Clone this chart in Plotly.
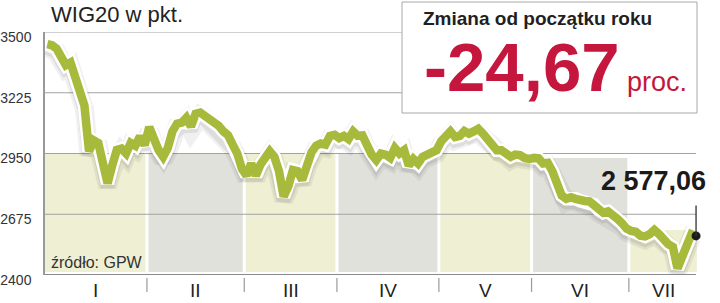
import numpy as np
import pandas as pd
import plotly.graph_objects as go

# ---------------- data ----------------
trade_dates = [
    "2008-01-02", "2008-01-03", "2008-01-04", "2008-01-07", "2008-01-08", "2008-01-09", "2008-01-10",
    "2008-01-11", "2008-01-14", "2008-01-15", "2008-01-16", "2008-01-17", "2008-01-18", "2008-01-21",
    "2008-01-22", "2008-01-23", "2008-01-24", "2008-01-25", "2008-01-28", "2008-01-29", "2008-01-30",
    "2008-01-31",
    "2008-02-01", "2008-02-04", "2008-02-05", "2008-02-06", "2008-02-07", "2008-02-08", "2008-02-11",
    "2008-02-12", "2008-02-13", "2008-02-14", "2008-02-15", "2008-02-18", "2008-02-19", "2008-02-20",
    "2008-02-21", "2008-02-22", "2008-02-25", "2008-02-26", "2008-02-27", "2008-02-28", "2008-02-29",
    "2008-03-03", "2008-03-04", "2008-03-05", "2008-03-06", "2008-03-07", "2008-03-10", "2008-03-11",
    "2008-03-12", "2008-03-13", "2008-03-14", "2008-03-17", "2008-03-18", "2008-03-19", "2008-03-20",
    "2008-03-21", "2008-03-25", "2008-03-26", "2008-03-27", "2008-03-28", "2008-03-31",
    "2008-04-01", "2008-04-02", "2008-04-03", "2008-04-04", "2008-04-07", "2008-04-08", "2008-04-09",
    "2008-04-10", "2008-04-11", "2008-04-14", "2008-04-15", "2008-04-16", "2008-04-17", "2008-04-18",
    "2008-04-21", "2008-04-22", "2008-04-23", "2008-04-24", "2008-04-25", "2008-04-28", "2008-04-29",
    "2008-04-30",
    "2008-05-02", "2008-05-05", "2008-05-06", "2008-05-07", "2008-05-08", "2008-05-09", "2008-05-12",
    "2008-05-13", "2008-05-14", "2008-05-15", "2008-05-16", "2008-05-19", "2008-05-20", "2008-05-21",
    "2008-05-23", "2008-05-26", "2008-05-27", "2008-05-28", "2008-05-29", "2008-05-30",
    "2008-06-02", "2008-06-03", "2008-06-04", "2008-06-05", "2008-06-06", "2008-06-09", "2008-06-10",
    "2008-06-11", "2008-06-12", "2008-06-13", "2008-06-16", "2008-06-17", "2008-06-18", "2008-06-19",
    "2008-06-20", "2008-06-23", "2008-06-24", "2008-06-25", "2008-06-26", "2008-06-27", "2008-06-30",
    "2008-07-01", "2008-07-02", "2008-07-03", "2008-07-04", "2008-07-07", "2008-07-08", "2008-07-09",
    "2008-07-10", "2008-07-11", "2008-07-14", "2008-07-15", "2008-07-16", "2008-07-17", "2008-07-18",
    "2008-07-21",
]
wig20 = [
    3445, 3440, 3425, 3385, 3350, 3362, 3290, 3215, 3168, 2960, 3010, 2998, 2890, 2815, 2895,
    2966, 2972, 2950, 2998, 2985, 3028, 2988,
    3070, 3008, 2966, 2935, 2975, 3050, 3085, 3090, 3112, 3072, 3130, 3135, 3122, 3100, 3085,
    3075, 3050, 3033, 2990, 2950, 2880,
    2850, 2905, 2850, 2900, 2930, 2960, 2935, 2870, 2755, 2800, 2875, 2870, 2830, 2900, 2955,
    2985, 2995, 2990, 3030, 3035,
    3020, 3030, 3015, 3050, 3030, 3032, 2985, 2945, 2920, 2950, 2945, 2930, 2975, 2950, 2965,
    2895, 2925, 2905, 2935, 2945, 2950, 2965,
    3005, 3025, 3050, 3025, 3030, 3052, 3040, 3050, 3062, 3040, 3015, 2995, 2965, 2965, 2955,
    2935, 2945, 2943, 2930, 2925,
    2930, 2928, 2905, 2908, 2870, 2810, 2760, 2745, 2752, 2745, 2736, 2735, 2733, 2718, 2695,
    2682, 2688, 2675, 2655, 2635, 2610,
    2600, 2596, 2578, 2575, 2585, 2604, 2585, 2555, 2540, 2527, 2430, 2482, 2525, 2585, 2577.06,
]
holidays = ["2008-01-01", "2008-03-24", "2008-05-01", "2008-05-22"]
month_starts = ["2008-01-01", "2008-02-01", "2008-03-01", "2008-04-01", "2008-05-01", "2008-06-01", "2008-07-01"]
month_labels = ["I", "II", "III", "IV", "V", "VI", "VII"]
y_ticks = [2400, 2675, 2950, 3225, 3500]
y_ticktext = ["2400", "2675", "2950", "3225", "3500"]
band_cap = 2950
title_text = "WIG20 w pkt."
box_title = "Zmiana od początku roku"
change_text = "-24,67"
change_unit = "proc."
last_text = "2 577,06"
source_text = "źródło: GPW"

# ---------------- style ----------------
W, H = 720, 303
L, R, T, B = 45, 17, 32, 28
PW, PH = W - L - R, H - T - B
Y0, Y1 = 2400, 3500
UNIT = (Y1 - Y0) / PH            # value units per pixel
GREEN = "#a8ba3c"
YELLOW = "#efefd4"
GREY = "#e1e1dc"
RED = "#c5163d"
FONT = "Liberation Sans"

hol = np.array(holidays, dtype="datetime64[D]")
first_day = np.datetime64(trade_dates[0], "D")


def slot_of(day):
    return int(np.busday_count(first_day, np.datetime64(day, "D"), holidays=hol))


def slot_to_ts(s):
    i = int(np.floor(s))
    f = s - i
    d = np.busday_offset(first_day, i, roll="forward", holidays=hol)
    return pd.Timestamp(d) + pd.Timedelta(hours=24 * f)


def px_x(px):
    return (px - L) / PW


def px_y(py):
    return (H - B - py) / PH


x_pts = pd.to_datetime(trade_dates) + pd.Timedelta(hours=12)
n_slots_total = slot_of(trade_dates[-1]) + 1
series = pd.Series(wig20, index=pd.to_datetime(trade_dates))
month_max = series.groupby(series.index.month).max().tolist()

# month band slots
starts = []
for ms in month_starts:
    ftd = np.busday_offset(np.datetime64(ms, "D"), 0, roll="forward", holidays=hol)
    starts.append(slot_of(ftd))
ends = starts[1:] + [n_slots_total]

gap = 0.33
shapes = []
annotations = []
for k, (s0, s1) in enumerate(zip(starts, ends)):
    a = s0 + (gap if k > 0 else 0)
    b = s1 - gap
    shapes.append(dict(type="rect", xref="x", yref="y", layer="below",
                       x0=slot_to_ts(a), x1=slot_to_ts(b),
                       y0=Y0 + 3 * UNIT, y1=min(band_cap, month_max[k]),
                       fillcolor=YELLOW if k % 2 == 0 else GREY, line=dict(width=0)))
    annotations.append(dict(x=slot_to_ts((s0 + s1) / 2), y=px_y(290), xref="x", yref="paper",
                            text=month_labels[k], showarrow=False, xanchor="center", yanchor="middle",
                            font=dict(family=FONT, size=19, color="#222222")))
    if k > 0:
        shapes.append(dict(type="line", xref="x", yref="paper", layer="above",
                           x0=slot_to_ts(s0), x1=slot_to_ts(s0), y0=px_y(278), y1=px_y(292),
                           line=dict(color="#9a9a9a", width=1.2)))

x_left = slot_to_ts(0)
x_last = x_pts[-1]
for v in y_ticks[1:]:
    shapes.append(dict(type="line", xref="x", yref="y", layer="below",
                       x0=x_left, x1=x_last, y0=v, y1=v,
                       line=dict(color="#a3a3a3", width=1)))
# bottom axis line
shapes.append(dict(type="line", xref="x", yref="y", layer="above",
                   x0=x_left, x1=x_last, y0=Y0, y1=Y0,
                   line=dict(color="#8a8a8a", width=2)))
# info box
shapes.append(dict(type="rect", xref="paper", yref="paper", layer="above",
                   x0=px_x(402), x1=px_x(697), y0=px_y(113), y1=px_y(2),
                   fillcolor="white", line=dict(color="#a8a8a8", width=1)))

fig = go.Figure()
# shadow (drawn on a slightly shifted axis)
fig.add_trace(go.Scatter(x=x_pts, y=wig20, mode="lines", yaxis="y2", hoverinfo="skip",
                         line=dict(color="rgba(0,0,0,0.06)", width=19)))
fig.add_trace(go.Scatter(x=x_pts, y=wig20, mode="lines", yaxis="y2", hoverinfo="skip",
                         line=dict(color="rgba(0,0,0,0.08)", width=14)))
# halo + line
fig.add_trace(go.Scatter(x=x_pts, y=wig20, mode="lines", yaxis="y3", hoverinfo="skip",
                         line=dict(color="white", width=13.5)))
fig.add_trace(go.Scatter(x=x_pts, y=wig20, mode="lines", yaxis="y3",
                         line=dict(color=GREEN, width=8.5)))
fig.add_trace(go.Scatter(x=[x_pts[-1]], y=[wig20[-1]], mode="markers", yaxis="y3",
                         marker=dict(color="#1a1a1a", size=9), cliponaxis=False))

# end label connector
annotations.append(dict(x=x_last, y=wig20[-1], xref="x", yref="y", text="", showarrow=True,
                        arrowhead=0, arrowwidth=1.3, arrowcolor="#333333", ax=0, ay=-32, standoff=0))
annotations.append(dict(x=x_last, y=wig20[-1], xref="x", yref="y", text=f"<b>{last_text}</b>",
                        showarrow=False, xanchor="right", yanchor="middle", xshift=12, yshift=55,
                        font=dict(family=FONT, size=27, color="#1a1a1a")))
# title
annotations.append(dict(x=px_x(49), y=px_y(14.5), xref="paper", yref="paper", text=title_text,
                        showarrow=False, xanchor="left", yanchor="middle",
                        font=dict(family=FONT, size=22, color="#222222")))
# box texts
annotations.append(dict(x=px_x(421), y=px_y(18.5), xref="paper", yref="paper", text=f"<b>{box_title}</b>",
                        showarrow=False, xanchor="left", yanchor="middle",
                        font=dict(family=FONT, size=19, color="#1f1f1f")))
annotations.append(dict(x=px_x(422), y=px_y(67), xref="paper", yref="paper", text=f"<b>{change_text}</b>",
                        showarrow=False, xanchor="left", yanchor="middle",
                        font=dict(family=FONT, size=69, color=RED)))
annotations.append(dict(x=px_x(625), y=px_y(81.5), xref="paper", yref="paper", text=change_unit,
                        showarrow=False, xanchor="left", yanchor="middle",
                        font=dict(family=FONT, size=27, color=RED)))
# source
annotations.append(dict(x=px_x(49), y=px_y(262.5), xref="paper", yref="paper", text=source_text,
                        showarrow=False, xanchor="left", yanchor="middle",
                        font=dict(family=FONT, size=16, color="#333333")))

fig.update_layout(
    width=W, height=H,
    margin=dict(l=L, r=R, t=T, b=B, pad=0, autoexpand=False),
    paper_bgcolor="white", plot_bgcolor="white",
    showlegend=False,
    font=dict(family=FONT),
    xaxis=dict(type="date", range=[slot_to_ts(0), slot_to_ts(n_slots_total + 1)],
               rangebreaks=[dict(bounds=["sat", "mon"]), dict(values=holidays)],
               automargin=False,
               showgrid=False, showline=False, zeroline=False, ticks="", showticklabels=False),
    yaxis=dict(range=[Y0, Y1], tickvals=y_ticks, ticktext=y_ticktext, showgrid=False,
               automargin=False,
               zeroline=False, showline=True, linecolor="#999999", linewidth=1.5, ticks="",
               tickfont=dict(family=FONT, size=14, color="#333333"),
               ticklabelstandoff=9, ticklabelshift=5),
    yaxis2=dict(range=[Y0 + 3.5 * UNIT, Y1 + 3.5 * UNIT], overlaying="y", visible=False),
    yaxis3=dict(range=[Y0, Y1], overlaying="y", visible=False),
    shapes=shapes,
    annotations=annotations,
)

fig.write_html("out.html")
